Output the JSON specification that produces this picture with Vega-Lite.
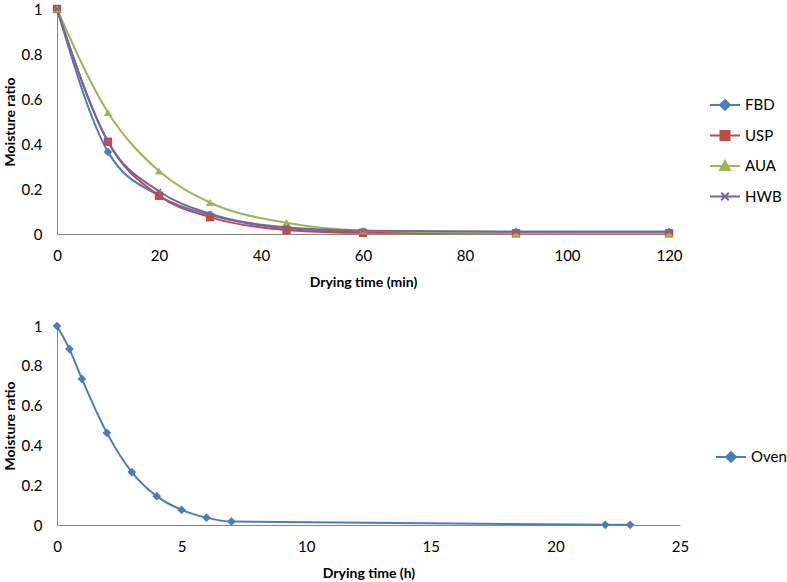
{
  "$schema": "https://vega.github.io/schema/vega-lite/v6.json",
  "padding": {"left": 3, "top": 2, "right": 0, "bottom": 0},
  "background": "white",
  "spacing": 30,
  "config": {
    "view": {"stroke": null},
    "font": "Lato",
    "axis": {
      "grid": false,
      "ticks": false,
      "labelFlush": false,
      "domainColor": "#868686",
      "domainWidth": 1,
      "labelFont": "Lato",
      "labelFontSize": 15,
      "labelColor": "#000000",
      "titleFont": "Lato",
      "titleFontSize": 14,
      "titleFontWeight": "bold",
      "titleColor": "#000000"
    },
    "legend": {
      "labelFont": "Lato",
      "labelFontSize": 15,
      "labelColor": "#000000"
    }
  },
  "resolve": {
    "scale": {"color": "independent", "x": "independent", "y": "independent"},
    "legend": {"color": "independent"}
  },
  "vconcat": [
    {
      "width": 612,
      "height": 225,
      "data": {
        "values": [
          {"series": "FBD", "t": 0, "mr": 1},
          {"series": "FBD", "t": 10, "mr": 0.365},
          {"series": "FBD", "t": 20, "mr": 0.17},
          {"series": "FBD", "t": 30, "mr": 0.085},
          {"series": "FBD", "t": 45, "mr": 0.025},
          {"series": "FBD", "t": 60, "mr": 0.01},
          {"series": "FBD", "t": 90, "mr": 0.01},
          {"series": "FBD", "t": 120, "mr": 0.01},
          {"series": "USP", "t": 0, "mr": 1},
          {"series": "USP", "t": 10, "mr": 0.41},
          {"series": "USP", "t": 20, "mr": 0.17},
          {"series": "USP", "t": 30, "mr": 0.075},
          {"series": "USP", "t": 45, "mr": 0.018},
          {"series": "USP", "t": 60, "mr": 0.005},
          {"series": "USP", "t": 90, "mr": 0.003},
          {"series": "USP", "t": 120, "mr": 0.003},
          {"series": "AUA", "t": 0, "mr": 1},
          {"series": "AUA", "t": 10, "mr": 0.54},
          {"series": "AUA", "t": 20, "mr": 0.28},
          {"series": "AUA", "t": 30, "mr": 0.14},
          {"series": "AUA", "t": 45, "mr": 0.05},
          {"series": "AUA", "t": 60, "mr": 0.015},
          {"series": "AUA", "t": 90, "mr": 0.004},
          {"series": "AUA", "t": 120, "mr": 0.004},
          {"series": "HWB", "t": 0, "mr": 1},
          {"series": "HWB", "t": 10, "mr": 0.41},
          {"series": "HWB", "t": 20, "mr": 0.19},
          {"series": "HWB", "t": 30, "mr": 0.09},
          {"series": "HWB", "t": 45, "mr": 0.03},
          {"series": "HWB", "t": 60, "mr": 0.015},
          {"series": "HWB", "t": 90, "mr": 0.01},
          {"series": "HWB", "t": 120, "mr": 0.01}
        ]
      },
      "encoding": {
        "x": {"field": "t", "type": "quantitative", "title": "Drying time (min)",
              "scale": {"domain": [0, 120], "nice": false},
              "axis": {"values": [0, 20, 40, 60, 80, 100, 120], "labelPadding": 14, "titlePadding": 12}},
        "y": {"field": "mr", "type": "quantitative", "title": "Moisture ratio",
              "scale": {"domain": [0, 1], "nice": false},
              "axis": {"values": [0, 0.2, 0.4, 0.6, 0.8, 1], "format": ".1~f", "labelPadding": 15, "titlePadding": 4}},
        "color": {"field": "series", "type": "nominal",
                  "scale": {"domain": ["FBD", "USP", "AUA", "HWB"], "range": ["#4a7ebb", "#be4b48", "#98b954", "#7d60a0"]},
                  "legend": {
                    "title": null, "orient": "none", "legendX": 652, "legendY": 80,
                    "symbolSize": 900, "rowPadding": 5.5, "labelOffset": 4, "padding": 0,
                    "encode": {"symbols": {"update": {
                      "shape": {"signal": "datum.value==='FBD' ? 'M-1,0H1M0,-0.33L0.33,0L0,0.33L-0.33,0Z' : datum.value==='USP' ? 'M-1,0H1M-0.3,-0.3H0.3V0.3H-0.3Z' : datum.value==='AUA' ? 'M-1,0H1M0,-0.33L0.33,0.27L-0.33,0.27Z' : 'M-1,0H1M-0.25,-0.25L0.25,0.25M-0.25,0.25L0.25,-0.25'"},
                      "size": {"value": 900},
                      "fill": {"signal": "datum.value==='FBD' ? '#4a7ebb' : datum.value==='USP' ? '#be4b48' : datum.value==='AUA' ? '#98b954' : '#7d60a0'"},
                      "stroke": {"signal": "datum.value==='FBD' ? '#4a7ebb' : datum.value==='USP' ? '#be4b48' : datum.value==='AUA' ? '#98b954' : '#7d60a0'"},
                      "strokeWidth": {"value": 2},
                      "opacity": {"value": 1}
                    }}}
                  }}
      },
      "layer": [
        {
          "mark": {"type": "line", "interpolate": "monotone", "strokeWidth": 2}
        },
        {
          "transform": [{"filter": "datum.series === 'FBD'"}],
          "mark": {"type": "point", "filled": true, "opacity": 1, "size": 75, "shape": "diamond"}
        },
        {
          "transform": [{"filter": "datum.series === 'USP'"}],
          "mark": {"type": "point", "filled": true, "opacity": 1, "size": 70, "shape": "square"}
        },
        {
          "transform": [{"filter": "datum.series === 'AUA'"}],
          "mark": {"type": "point", "filled": true, "opacity": 1, "size": 70, "shape": "triangle-up"}
        },
        {
          "transform": [{"filter": "datum.series === 'HWB'"}],
          "mark": {"type": "point", "filled": false, "opacity": 1, "size": 80, "strokeWidth": 1.5, "shape": "M-0.5,-0.5L0.5,0.5M-0.5,0.5L0.5,-0.5"}
        }
      ]
    },
    {
      "width": 623,
      "height": 199,
      "data": {
        "values": [
          {"series": "Oven", "t": 0, "mr": 1},
          {"series": "Oven", "t": 0.5, "mr": 0.884},
          {"series": "Oven", "t": 1, "mr": 0.734},
          {"series": "Oven", "t": 2, "mr": 0.463},
          {"series": "Oven", "t": 3, "mr": 0.266},
          {"series": "Oven", "t": 4, "mr": 0.145},
          {"series": "Oven", "t": 5, "mr": 0.076},
          {"series": "Oven", "t": 6, "mr": 0.037},
          {"series": "Oven", "t": 7, "mr": 0.017},
          {"series": "Oven", "t": 22, "mr": 0.001},
          {"series": "Oven", "t": 23, "mr": 0.001}
        ]
      },
      "encoding": {
        "x": {"field": "t", "type": "quantitative", "title": "Drying time (h)",
              "scale": {"domain": [0, 25], "nice": false},
              "axis": {"values": [0, 5, 10, 15, 20, 25], "labelPadding": 14, "titlePadding": 12}},
        "y": {"field": "mr", "type": "quantitative", "title": "Moisture ratio",
              "scale": {"domain": [0, 1], "nice": false},
              "axis": {"values": [0, 0.2, 0.4, 0.6, 0.8, 1], "format": ".1~f", "labelPadding": 15, "titlePadding": 4}},
        "color": {"field": "series", "type": "nominal",
                  "scale": {"domain": ["Oven"], "range": ["#4a7ebb"]},
                  "legend": {
                    "title": null, "orient": "none", "legendX": 658, "legendY": 115,
                    "symbolSize": 900, "labelOffset": 4, "padding": 0,
                    "encode": {"symbols": {"update": {
                      "shape": {"value": "M-1,0H1M0,-0.33L0.33,0L0,0.33L-0.33,0Z"},
                      "size": {"value": 900},
                      "fill": {"value": "#4a7ebb"},
                      "stroke": {"value": "#4a7ebb"},
                      "strokeWidth": {"value": 2},
                      "opacity": {"value": 1}
                    }}}
                  }}
      },
      "layer": [
        {
          "mark": {"type": "line", "interpolate": "monotone", "strokeWidth": 2}
        },
        {
          "mark": {"type": "point", "filled": true, "opacity": 1, "size": 75, "shape": "diamond"}
        }
      ]
    }
  ]
}
